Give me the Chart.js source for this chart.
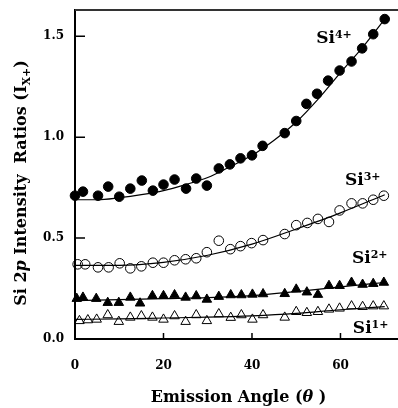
<!DOCTYPE html>
<html>
<head>
<meta charset="utf-8">
<script src="https://cdn.jsdelivr.net/npm/chart.js@4"></script>
<style>
html, body { margin: 0; padding: 0; background: #fff; overflow: hidden; }
</style>
</head>
<body>
<canvas id="myChart" width="398" height="408"></canvas>
<script>
	var xTicks = [0, 20, 40, 60];
	var yTicks = [0, 0.5, 1.0, 1.5];

	var si4Angle = [0, 1.8, 5.2, 7.5, 10, 12.5, 15.1, 17.6, 20, 22.5, 25.1, 27.4, 29.8, 32.5, 35, 37.4, 40, 42.4, 47.4, 50, 52.3, 54.7, 57.2, 59.8, 62.5, 64.9, 67.4, 70];
	var si4Ratio = [0.71, 0.73, 0.71, 0.755, 0.705, 0.745, 0.785, 0.735, 0.765, 0.79, 0.745, 0.795, 0.76, 0.845, 0.865, 0.895, 0.91, 0.957, 1.02, 1.08, 1.165, 1.215, 1.28, 1.33, 1.375, 1.44, 1.51, 1.585];

	var si3Angle = [0.6, 2.3, 5.2, 7.6, 10.1, 12.5, 15, 17.6, 20, 22.5, 25, 27.4, 29.8, 32.5, 35.1, 37.4, 39.9, 42.5, 47.4, 50, 52.5, 54.9, 57.4, 59.8, 62.5, 65, 67.4, 69.8];
	var si3Ratio = [0.37, 0.37, 0.355, 0.355, 0.375, 0.35, 0.36, 0.378, 0.378, 0.39, 0.395, 0.40, 0.43, 0.487, 0.445, 0.46, 0.475, 0.49, 0.52, 0.564, 0.575, 0.595, 0.58, 0.637, 0.672, 0.672, 0.69, 0.71];

	var si2Angle = [0.4, 1.8, 4.8, 7.4, 9.9, 12.5, 14.7, 17.5, 20, 22.5, 25, 27.4, 29.8, 32.5, 35.2, 37.6, 40.1, 42.5, 47.4, 50, 52.4, 54.9, 57.4, 59.8, 62.5, 65, 67.4, 69.8];
	var si2Ratio = [0.20, 0.206, 0.20, 0.18, 0.18, 0.206, 0.177, 0.214, 0.214, 0.218, 0.206, 0.213, 0.196, 0.21, 0.218, 0.218, 0.221, 0.223, 0.224, 0.246, 0.232, 0.22, 0.264, 0.264, 0.28, 0.27, 0.274, 0.28];

	var si1Angle = [1.0, 2.9, 4.9, 7.4, 9.9, 12.5, 15, 17.5, 20, 22.5, 25, 27.4, 29.8, 32.5, 35.2, 37.6, 40.1, 42.5, 47.4, 50, 52.4, 54.9, 57.4, 59.8, 62.5, 65, 67.4, 69.8];
	var si1Ratio = [0.09, 0.094, 0.097, 0.119, 0.086, 0.107, 0.114, 0.107, 0.097, 0.114, 0.086, 0.119, 0.09, 0.124, 0.106, 0.119, 0.097, 0.119, 0.107, 0.135, 0.13, 0.135, 0.147, 0.152, 0.163, 0.16, 0.163, 0.163];

	// fitted curves
	var fitAngle4 = [0, 5, 10, 15, 20, 25, 30, 35, 40, 45, 50, 55, 60, 65, 70];
	var fit4 = [0.69, 0.69, 0.70, 0.715, 0.735, 0.765, 0.80, 0.853, 0.91, 0.985, 1.075, 1.19, 1.32, 1.445, 1.585];
	var fitAngle = [0, 10, 20, 30, 40, 50, 60, 70];
	var fit3 = [0.365, 0.365, 0.38, 0.415, 0.47, 0.545, 0.625, 0.715];
	var fit2 = [0.19, 0.195, 0.20, 0.205, 0.215, 0.235, 0.258, 0.28];
	var fit1 = [0.097, 0.10, 0.104, 0.108, 0.115, 0.127, 0.145, 0.16];

	var labelBase = ["Si", "Si", "Si", "Si"];
	var labelSup = ["4+", "3+", "2+", "1+"];
	var labelAngle = [54.5, 61.0, 62.6, 62.8];
	var labelRatio = [1.467, 0.763, 0.376, 0.03];

	var SERIF = "'DejaVu Serif', serif";

	function toPoints(xs, ys) {
		var pts = [];
		for (var i = 0; i < xs.length; i++) {
			pts.push({x: xs[i], y: ys[i]});
		}
		return pts;
	}

	function pointSet(xs, ys, style, filled) {
		return {
			data: toPoints(xs, ys),
			showLine: false,
			pointStyle: style,
			pointRadius: style == 'triangle' ? 5.5 : 4.8,
			pointBorderWidth: 1,
			pointBorderColor: '#000',
			pointBackgroundColor: filled ? '#000' : 'rgba(0,0,0,0)',
			clip: false
		};
	}

	function fitSet(xs, ys) {
		return {
			data: toPoints(xs, ys),
			showLine: true,
			borderColor: '#000',
			borderWidth: 1.2,
			pointRadius: 0,
			cubicInterpolationMode: 'monotone',
			fill: false
		};
	}

	// draws text pieces one after another: [text, font, dy]
	function drawPieces(ctx, pieces, x, y) {
		var cx = x;
		pieces.forEach(function(p) {
			ctx.font = p[1];
			ctx.fillText(p[0], cx, y + p[2]);
			cx += ctx.measureText(p[0]).width;
		});
		return cx - x;
	}

	function piecesWidth(ctx, pieces) {
		var w = 0;
		pieces.forEach(function(p) {
			ctx.font = p[1];
			w += ctx.measureText(p[0]).width;
		});
		return w;
	}

	var decorPlugin = {
		id: 'decor',
		afterDraw: function(chart) {
			var ctx = chart.ctx;
			var a = chart.chartArea;
			var xs = chart.scales.x;
			var ys = chart.scales.y;
			ctx.save();

			ctx.strokeStyle = '#333';
			ctx.lineWidth = 2;
			ctx.beginPath();
			ctx.moveTo(a.left, a.top);
			ctx.lineTo(a.right, a.top);
			ctx.stroke();

			ctx.strokeStyle = '#000';
			ctx.lineWidth = 1.5;
			ctx.beginPath();
			yTicks.forEach(function(v) {
				var y = ys.getPixelForValue(v);
				ctx.moveTo(a.left, y);
				ctx.lineTo(a.left + 10, y);
			});
			xTicks.forEach(function(v) {
				var x = xs.getPixelForValue(v);
				ctx.moveTo(x, a.bottom);
				ctx.lineTo(x, a.bottom - 6);
			});
			ctx.stroke();

			ctx.fillStyle = '#000';
			ctx.textBaseline = 'alphabetic';
			ctx.textAlign = 'left';
			for (var i = 0; i < labelBase.length; i++) {
				var lx = xs.getPixelForValue(labelAngle[i]);
				var ly = ys.getPixelForValue(labelRatio[i]);
				drawPieces(ctx, [
					[labelBase[i], 'bold 17px ' + SERIF, 0],
					[labelSup[i], 'bold 11px ' + SERIF, -5]
				], lx, ly);
			}

			var xTitle = [
				['Emission Angle (', 'bold 16px ' + SERIF, 0],
				['\u03b8', 'italic bold 16px ' + SERIF, 0],
				[' )', 'bold 16px ' + SERIF, 0]
			];
			var tw = piecesWidth(ctx, xTitle);
			drawPieces(ctx, xTitle, (a.left + a.right) / 2 + 2 - tw / 2, 402);

			var yTitle = [
				['Si 2', 'bold 16px ' + SERIF, 0],
				['p', 'italic bold 16px ' + SERIF, 0],
				[' Intensity  Ratios (I', 'bold 16px ' + SERIF, 0],
				['X+', 'bold 11px ' + SERIF, 4],
				[')', 'bold 16px ' + SERIF, 0]
			];
			var yw = piecesWidth(ctx, yTitle);
			ctx.translate(26, 183);
			ctx.rotate(-Math.PI / 2);
			drawPieces(ctx, yTitle, -yw / 2, 0);

			ctx.restore();
		}
	};

	var tickFont = {family: SERIF, weight: 'bold', size: 12};

	var myChart = new Chart(document.getElementById('myChart'), {
		type: 'scatter',
		data: {
			datasets: [
				pointSet(si4Angle, si4Ratio, 'circle', true),
				pointSet(si3Angle, si3Ratio, 'circle', false),
				pointSet(si2Angle, si2Ratio, 'triangle', true),
				pointSet(si1Angle, si1Ratio, 'triangle', false),
				fitSet(fitAngle4, fit4),
				fitSet(fitAngle, fit3),
				fitSet(fitAngle, fit2),
				fitSet(fitAngle, fit1)
			]
		},
		options: {
			responsive: false,
			animation: false,
			devicePixelRatio: 1,
			layout: {autoPadding: false, padding: {top: 10, left: 0, right: 0, bottom: 0}},
			plugins: {legend: {display: false}, tooltip: {enabled: false}},
			scales: {
				x: {
					type: 'linear',
					min: 0,
					max: 73,
					grid: {display: false, drawTicks: false},
					border: {display: true, color: '#000', width: 2},
					ticks: {
						padding: 20,
						color: '#000',
						font: tickFont,
						maxRotation: 0,
						callback: function(v) { return String(v); }
					},
					afterBuildTicks: function(s) {
						s.ticks = xTicks.map(function(v) { return {value: v}; });
					},
					afterFit: function(s) {
						s.height = 69;
						s.paddingLeft = 0;
						s.paddingRight = 0;
					}
				},
				y: {
					type: 'linear',
					min: 0,
					max: 1.63,
					grid: {display: false, drawTicks: false},
					border: {display: true, color: '#000', width: 2},
					ticks: {
						padding: 11,
						color: '#000',
						font: tickFont,
						callback: function(v) { return Number(v).toFixed(1); }
					},
					afterBuildTicks: function(s) {
						s.ticks = yTicks.map(function(v) { return {value: v}; });
					},
					afterFit: function(s) {
						s.width = 75;
						s.paddingTop = 0;
						s.paddingBottom = 0;
					}
				}
			}
		},
		plugins: [decorPlugin]
	});
</script>
</body>
</html>
